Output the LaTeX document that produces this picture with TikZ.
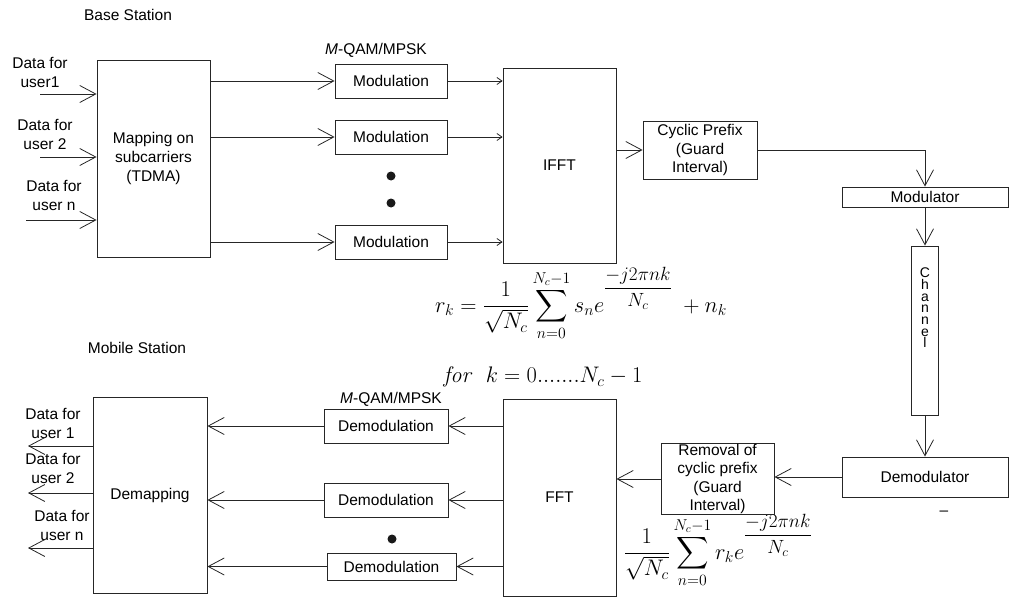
\RequirePackage{fix-cm}
\documentclass[tikz,border=0pt]{standalone}
\usepackage{exscale}
\DeclareFontShape{OMX}{cmex}{m}{n}{<->sfixed*[1] cmex10}{}
\usepackage[no-math]{fontspec}
\setmainfont{Liberation Sans}
\usetikzlibrary{arrows.meta}
\DeclareFontShape{OMX}{cmex}{m}{n}{<-7.5> cmex7 <7.5-8.5> cmex8 <8.5-9.5> cmex9 <9.5-> cmex10}{}
\tikzset{
  box/.style={draw=black!85, line width=0.8pt, inner sep=0pt, align=center,
    font=\fontsize{15.5}{18.6}\selectfont},
  lbl/.style={inner sep=0pt, align=center, font=\fontsize{15.5}{19}\selectfont},
  fml/.style={inner sep=0pt, font=\fontsize{22.5}{27}\selectfont},
  conn/.style={draw=black!85, line width=0.8pt},
  big/.style={conn, -{Straight Barb[length=16pt,width=17pt,line width=0.8pt]}},
  small/.style={conn, -{Straight Barb[length=5pt,width=7pt,line width=0.8pt]}},
  dotn/.style={circle, fill=black!90, inner sep=0pt, minimum size=9pt}
}
\begin{document}
\begin{tikzpicture}[x=1pt,y=-1pt]
\useasboundingbox (0,0) rectangle (1009,599);

% ---------- Base station ----------
\node[lbl] (bs) at (128,15) {Base Station};
\node[lbl] (qam1) at (376,50) {\textit{M}-QAM/MPSK};

\node[box, minimum width=113pt, minimum height=197pt] (map) at (153.5,158.5)
  {Mapping on\\subcarriers\\(TDMA)};
\node[box, minimum width=112pt, minimum height=34pt] (mod1) at (391,81) {Modulation};
\node[box, minimum width=112pt, minimum height=34pt] (mod2) at (391,137) {Modulation};
\node[box, minimum width=112pt, minimum height=34pt] (mod3) at (391,242) {Modulation};
\node[dotn] (dt1) at (391,176) {};
\node[dotn] (dt2) at (391,203) {};
\node[box, minimum width=113pt, minimum height=195pt] (ifft) at (559.5,165.5) {IFFT};
\node[box, minimum width=114pt, minimum height=58pt] (cp) at (700,150)
  {Cyclic Prefix\\(Guard\\Interval)};
\node[box, minimum width=166pt, minimum height=20pt] (modr) at (925,197) {Modulator};
\node[box, minimum width=27pt, minimum height=169pt] (chan) at (925,330.5) {};
\node[lbl, font=\fontsize{14}{11.7}\selectfont] (chant) at (925,308) {C\\h\\a\\n\\n\\e\\l};
\node[box, minimum width=166pt, minimum height=40pt] (demr) at (925,477) {Demodulator};

% inputs
\node[lbl] (u1) at (40,72.5) {Data for\\user1};
\node[lbl] (u2) at (45,134.5) {Data for\\user 2};
\node[lbl] (un) at (54,195.5) {Data for\\user n};
\coordinate (in1) at (40,94);
\coordinate (in2) at (40,157);
\coordinate (in3) at (26,220);
\draw[big] (in1) -- (in1 -| map.west);
\draw[big] (in2) -- (in2 -| map.west);
\draw[big] (in3) -- (in3 -| map.west);

\draw[big] (map.east |- mod1) -- (mod1.west);
\draw[big] (map.east |- mod2) -- (mod2.west);
\draw[big] (map.east |- mod3) -- (mod3.west);
\draw[small] (mod1.east) -- (mod1.east -| ifft.west);
\draw[small] (mod2.east) -- (mod2.east -| ifft.west);
\draw[small] (mod3.east) -- (mod3.east -| ifft.west);
\draw[big] (ifft.east |- cp) -- (cp.west);
\draw[big] (cp.east) -| (modr.north);
\draw[big] (modr.south) -- (chan.north);
\draw[big] (chan.south) -- (demr.north);

% formulas
\node[fml] (f1) at (581,304)
  {$\displaystyle r_k=\frac{1}{\sqrt{N_c}}\sum_{n=0}^{N_c-1}s_n e^{\scalebox{0.85}{$\displaystyle\frac{-j2\pi nk}{N_c}$}}\;+n_k$};
\node[fml] (f2) at (543,377) {$\mathit{for}\;\; k=0.......N_c-1$};
\node[fml] (f3) at (718,551)
  {$\displaystyle \frac{1}{\sqrt{N_c}}\sum_{n=0}^{N_c-1}r_k e^{\scalebox{0.85}{$\displaystyle\frac{-j2\pi nk}{N_c}$}}$};
\node[lbl] (dash) at (944,513) {–};

% ---------- Mobile station ----------
\node[lbl] (ms) at (137,348) {Mobile Station};
\node[lbl] (qam2) at (391,399) {\textit{M}-QAM/MPSK};

\node[box, minimum width=113pt, minimum height=68pt] (rem) at (717.5,479)
  {Removal of\\cyclic prefix\\(Guard\\Interval)};
\node[box, minimum width=113pt, minimum height=197pt] (fft) at (559.5,497.5) {FFT};
\node[box, minimum width=124pt, minimum height=34pt] (dem1) at (386,426) {Demodulation};
\node[box, minimum width=124pt, minimum height=34pt] (dem2) at (386,500) {Demodulation};
\node[box, minimum width=129pt, minimum height=27pt] (dem3) at (391.5,566.5) {Demodulation};
\node[dotn] (dt3) at (392,539) {};
\node[box, minimum width=114pt, minimum height=196pt] (demap) at (150,495) {Demapping};

\node[lbl] (v1) at (53,423) {Data for\\user 1};
\node[lbl] (v2) at (53,468) {Data for\\user 2};
\node[lbl] (vn) at (62,525) {Data for\\user n};
\coordinate (out1) at (28,446);
\coordinate (out2) at (28,493);
\coordinate (out3) at (28,548);

\draw[big] (demr.west) -- (demr.west -| rem.east);
\draw[big] (rem.west) -- (rem.west -| fft.east);
\draw[big] (fft.west |- dem1) -- (dem1.east);
\draw[big] (fft.west |- dem2) -- (dem2.east);
\draw[big] (fft.west |- dem3) -- (dem3.east);
\draw[big] (dem1.west) -- (dem1.west -| demap.east);
\draw[big] (dem2.west) -- (dem2.west -| demap.east);
\draw[big] (dem3.west) -- (dem3.west -| demap.east);
\draw[big] (demap.west |- out1) -- (out1);
\draw[big] (demap.west |- out2) -- (out2);
\draw[big] (demap.west |- out3) -- (out3);
\end{tikzpicture}
\end{document}
